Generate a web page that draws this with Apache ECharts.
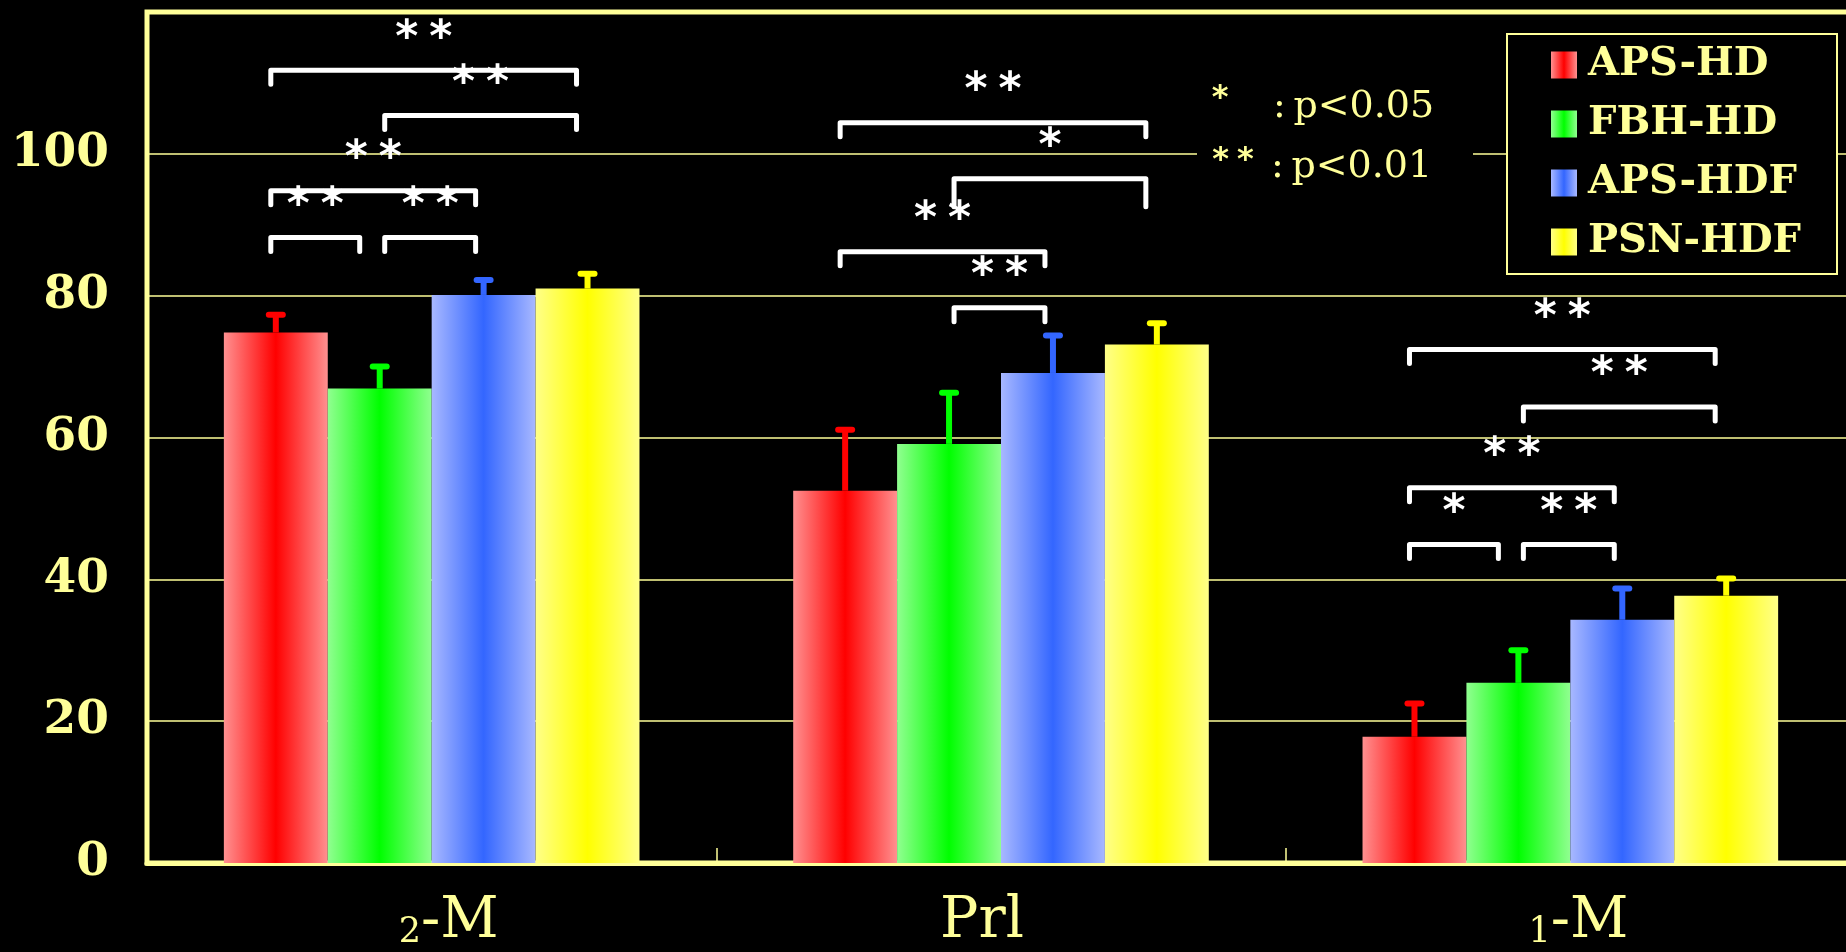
<!DOCTYPE html>
<html>
<head>
<meta charset="utf-8">
<script src="https://cdn.jsdelivr.net/npm/echarts@6/dist/echarts.min.js"></script>
<style>
  html, body { margin: 0; padding: 0; background: #000; }
  #chart { width: 1846px; height: 952px; }
</style>
</head>
<body>
<div id="chart"></div>
<script>
// ---- data ----
const categories = ['₂-M', 'Prl', '₁-M'];
const seriesNames = ['APS-HD', 'FBH-HD', 'APS-HDF', 'PSN-HDF'];

const apsHd  = [74.8, 52.5, 17.8];
const fbhHd  = [66.9, 59.1, 25.4];
const apsHdf = [80.1, 69.1, 34.3];
const psnHdf = [81.0, 73.1, 37.7];

const apsHdSd  = [2.5, 8.6, 4.7];
const fbhHdSd  = [3.1, 7.2, 4.6];
const apsHdfSd = [2.1, 5.3, 4.4];
const psnHdfSd = [2.1, 3.0, 2.4];

const yTicks = [0, 20, 40, 60, 80, 100];

// significance brackets: category, first group, second group, bracket level, mark
const sigCategory = [0, 0, 0, 0, 0, 1, 1, 1, 1, 2, 2, 2, 2, 2];
const sigFrom     = [0, 1, 0, 0, 1, 0, 1, 0, 1, 0, 1, 0, 0, 1];
const sigTo       = [3, 3, 2, 1, 2, 3, 3, 2, 2, 3, 3, 2, 1, 2];
const sigLevel    = [111.8, 105.4, 94.8, 88.2, 88.2, 104.4, 96.5, 86.2, 78.3, 72.4, 64.3, 52.9, 44.9, 44.9];
const sigMark     = ['**', '**', '**', '**', '**', '**', '*', '**', '**', '**', '**', '**', '*', '**'];

// ---- styling ----
const AXIS = '#ffff99';
const groupValues = [apsHd, fbhHd, apsHdf, psnHdf];
const groupSd = [apsHdSd, fbhHdSd, apsHdfSd, psnHdfSd];
const edgeColors = ['#ff9090', '#90ff90', '#a8b8ff', '#ffff88'];
const coreColors = ['#ff0000', '#00ff00', '#3366ff', '#ffff00'];
const CAT_GAP = 0.27;
const N = seriesNames.length;
const bracketDrop = [14, 14, 14, 14, 14, 14, 28, 14, 14, 14, 14, 14, 14, 14];
// pixel nudges of bracket ends relative to the bar centres
const startNudge = [-5, 5, 0, 0];
const endNudge = [0, -20, -8, -11];

function grad(k) {
  return new echarts.graphic.LinearGradient(0, 0, 1, 0, [
    { offset: 0, color: edgeColors[k] },
    { offset: 0.5, color: coreColors[k] },
    { offset: 1, color: edgeColors[k] }
  ]);
}

// horizontal offset of bar k from its category centre
function barOffset(api, k) {
  const band = api.size([1, 0])[0];
  const bw = band * (1 - CAT_GAP) / N;
  return (k - (N - 1) / 2) * bw;
}

const barSeries = seriesNames.map((name, k) => ({
  name: name,
  type: 'bar',
  data: groupValues[k],
  barGap: '0%',
  barCategoryGap: (CAT_GAP * 100) + '%',
  itemStyle: { color: grad(k) },
  z: 2
}));

const errorSeries = seriesNames.map((name, k) => ({
  type: 'custom',
  silent: true,
  z: 3,
  data: groupValues[k].map((v, i) => [i, v, v + groupSd[k][i]]),
  encode: { x: 0, y: [1, 2] },
  renderItem: function (params, api) {
    const cat = api.value(0);
    const x = api.coord([cat, 0])[0] + barOffset(api, k);
    const yBase = api.coord([cat, api.value(1)])[1];
    const yTop = api.coord([cat, api.value(2)])[1];
    return {
      type: 'group',
      children: [
        { type: 'line', shape: { x1: x, y1: yBase, x2: x, y2: yTop },
          style: { stroke: coreColors[k], lineWidth: 6 } },
        { type: 'line', shape: { x1: x - 7, y1: yTop, x2: x + 7, y2: yTop },
          style: { stroke: coreColors[k], lineWidth: 6, lineCap: 'round' } }
      ]
    };
  }
}));

const bracketSeries = {
  type: 'custom',
  silent: true,
  z: 4,
  data: sigCategory.map((c, i) => [c, sigFrom[i], sigTo[i], sigLevel[i]]),
  encode: { x: 0, y: 3 },
  renderItem: function (params, api) {
    const i = params.dataIndex;
    const cat = api.value(0);
    const a = api.value(1), b = api.value(2);
    const cx = api.coord([cat, 0])[0];
    const x1 = cx + barOffset(api, a) + startNudge[a];
    const x2 = cx + barOffset(api, b) + endNudge[b];
    const y = api.coord([cat, api.value(3)])[1];
    const d = bracketDrop[i];
    return {
      type: 'group',
      children: [
        { type: 'polyline',
          shape: { points: [[x1, y + d], [x1, y], [x2, y], [x2, y + d]] },
          style: { stroke: '#ffffff', fill: 'none', lineWidth: 5, lineCap: 'round', lineJoin: 'round' } },
        { type: 'text',
          style: { text: sigMark[i].split('').join('\u2005'), x: (x1 + x2) / 2, y: y - 31,
                   fill: '#ffffff', font: 'bold 44px "DejaVu Sans"', align: 'center', verticalAlign: 'middle' } }
      ]
    };
  }
};

const subDigits = '₀₁₂₃₄₅₆₇₈₉';

const option = {
  backgroundColor: '#000',
  animation: false,
  grid: {
    left: 147, top: 12, width: 1708, height: 851,
    outerBoundsMode: 'none',
    containLabel: false,
    show: true, borderColor: AXIS, borderWidth: 5, backgroundColor: 'transparent'
  },
  legend: {
    data: seriesNames,
    orient: 'vertical',
    left: 1551, top: 45,
    padding: 0,
    itemWidth: 26, itemHeight: 27, itemGap: 19,
    icon: 'rect',
    selectedMode: false,
    z: 6,
    textStyle: {
      color: AXIS, fontFamily: 'DejaVu Serif', fontWeight: 'bold',
      fontSize: 40, lineHeight: 40, padding: [0, 0, 0, 6]
    }
  },
  xAxis: {
    type: 'category',
    data: categories,
    axisLine: { show: true, lineStyle: { color: AXIS, width: 5 } },
    axisTick: { show: true, inside: true, length: 15, interval: 0, lineStyle: { color: AXIS, width: 1.5 } },
    axisLabel: {
      interval: 0,
      margin: 31,
      color: AXIS,
      fontFamily: 'DejaVu Serif',
      formatter: function (val, idx) {
        const first = val.charAt(0);
        const d = subDigits.indexOf(first);
        if (d >= 0) {
          return '{' + (idx === 0 ? 'subA' : 'subB') + '|' + d + '}{m|' + val.slice(1) + '}';
        }
        return '{mr|' + val + '}';
      },
      rich: {
        subA: { fontSize: 35, lineHeight: 21, verticalAlign: 'bottom', fontFamily: 'DejaVu Serif', color: AXIS, padding: [0, 0, 0, 34] },
        subB: { fontSize: 35, lineHeight: 21, verticalAlign: 'bottom', fontFamily: 'DejaVu Serif', color: AXIS, padding: [0, 0, 0, 16] },
        m:  { fontSize: 57, lineHeight: 56, fontFamily: 'DejaVu Serif', color: AXIS },
        mr: { fontSize: 57, lineHeight: 56, fontFamily: 'DejaVu Serif', color: AXIS, padding: [0, 38, 0, 0] }
      }
    }
  },
  yAxis: {
    type: 'value',
    min: 0, max: 120, interval: 20,
    axisLine: { show: true, lineStyle: { color: AXIS, width: 4 } },
    axisTick: { show: false },
    splitLine: { show: true, lineStyle: { color: AXIS, width: 1.5 } },
    axisLabel: {
      margin: 38,
      color: AXIS,
      fontFamily: 'DejaVu Serif',
      fontWeight: 'bold',
      fontSize: 47,
      formatter: v => (yTicks.indexOf(v) >= 0 ? String(v) : '')
    }
  },
  graphic: [
    { type: 'rect', x: 1507, y: 34, z: 5, shape: { x: 0, y: 0, width: 330, height: 240 },
      style: { fill: '#000', stroke: AXIS, lineWidth: 2 } },
    { type: 'rect', x: 1197, y: 72, z: 5, shape: { x: 0, y: 0, width: 276, height: 118 },
      style: { fill: '#000' } },
    { type: 'text', x: 1220, y: 99, z: 6,
      style: { text: '*', fill: AXIS, font: 'bold 32px "DejaVu Sans"', align: 'center', verticalAlign: 'middle' } },
    { type: 'text', x: 1273, y: 107, z: 6,
      style: { text: ':\u2009p<0.05', fill: AXIS, font: '38px "DejaVu Serif"', align: 'left', verticalAlign: 'middle' } },
    { type: 'text', x: 1233, y: 161, z: 6,
      style: { text: '*\u2005*', fill: AXIS, font: 'bold 32px "DejaVu Sans"', align: 'center', verticalAlign: 'middle' } },
    { type: 'text', x: 1271, y: 167, z: 6,
      style: { text: ':\u2009p<0.01', fill: AXIS, font: '38px "DejaVu Serif"', align: 'left', verticalAlign: 'middle' } }
  ],
  series: barSeries.concat(errorSeries, [bracketSeries])
};

const chart = echarts.init(document.getElementById('chart'), null, { renderer: 'canvas' });
chart.setOption(option);
</script>
</body>
</html>
